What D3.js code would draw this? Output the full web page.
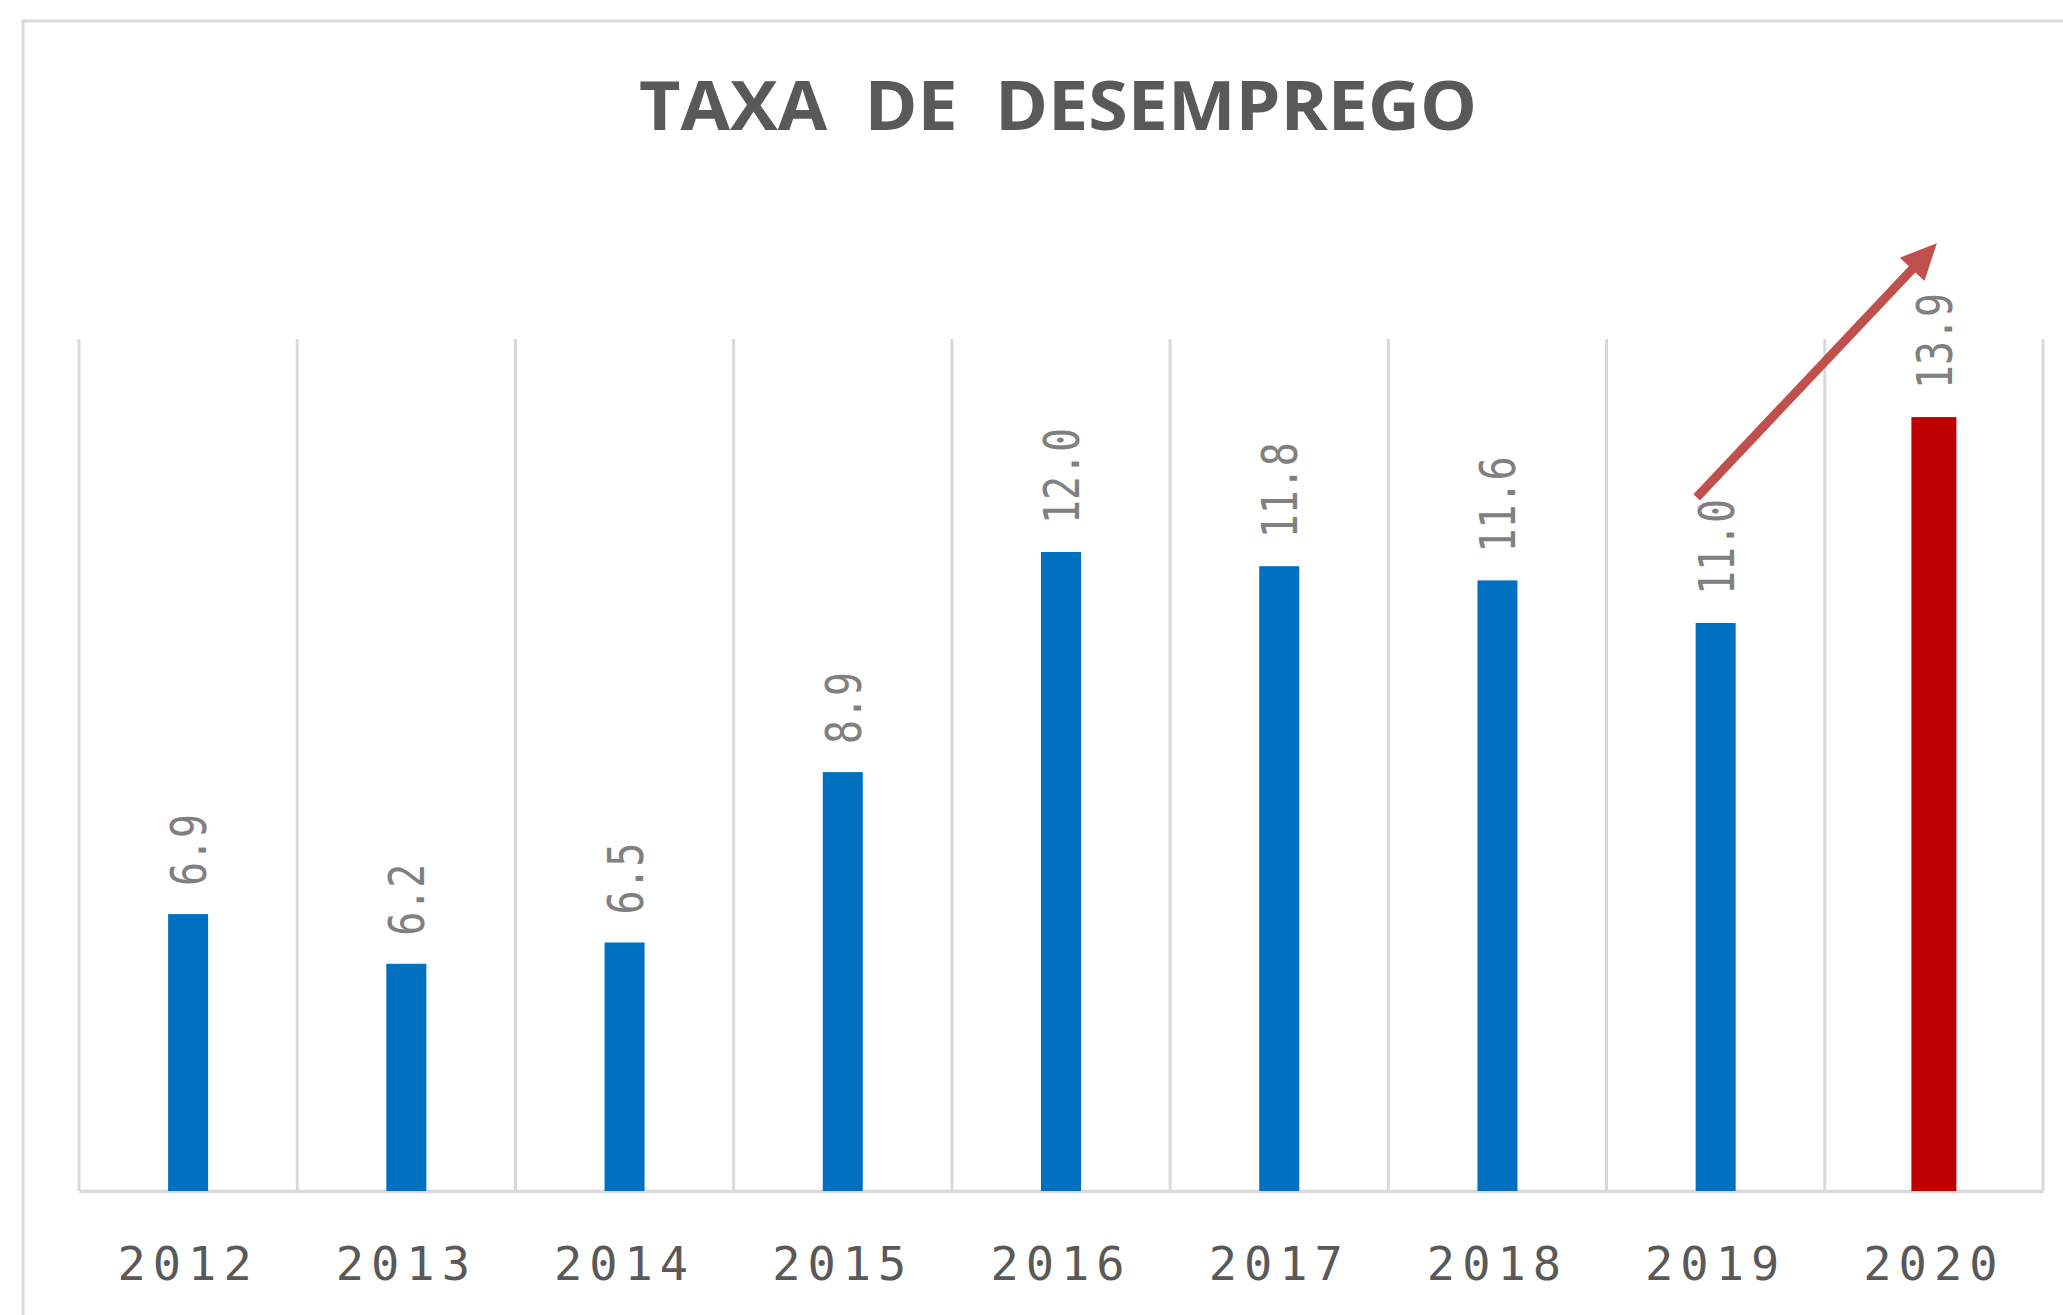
<!DOCTYPE html>
<html>
<head>
<meta charset="utf-8">
<script src="https://cdn.jsdelivr.net/npm/d3@7"></script>
<style>
  html, body { margin: 0; padding: 0; background: #fff; }
  svg { display: block; }
</style>
</head>
<body>
<div id="chart"></div>
<script>
// data
const years = ['2012', '2013', '2014', '2015', '2016', '2017', '2018', '2019', '2020'];
const rates = [6.9, 6.2, 6.5, 8.9, 12.0, 11.8, 11.6, 11.0, 13.9];
const highlightYear = '2020';
const yDomain = [3, 15];
// arrow annotation, in data terms (year + value)
const arrowFrom = { year: '2019', value: 12.77 };
const arrowTo = { year: '2020', value: 16.35 };

const width = 2063;
const height = 1315;
const plot = { left: 79, right: 2043, top: 339, bottom: 1191 };

const svg = d3.select('#chart').append('svg')
  .attr('width', width)
  .attr('height', height);

// outer chart border (cut off on right/bottom like the screenshot)
svg.append('rect')
  .attr('x', 23).attr('y', 21)
  .attr('width', 2200).attr('height', 1500)
  .attr('fill', 'none')
  .attr('stroke', '#d9d9d9')
  .attr('stroke-width', 3);

svg.append('text')
  .attr('x', 1058)
  .attr('y', 130)
  .attr('text-anchor', 'middle')
  .attr('textLength', 838)
  .attr('lengthAdjust', 'spacingAndGlyphs')
  .style('white-space', 'pre')
  .style('font-family', '"Open Sans", sans-serif')
  .style('font-weight', 700)
  .style('font-size', '68px')
  .style('fill', '#595959')
  .text('TAXA  DE  DESEMPREGO');

const x = d3.scaleBand()
  .domain(years)
  .range([plot.left, plot.right])
  .padding(0);

const y = d3.scaleLinear()
  .domain(yDomain)
  .range([plot.bottom, plot.top]);

const cx = d => x(d) + x.bandwidth() / 2;

// vertical gridlines at category boundaries
const bounds = years.map(d => x(d)).concat([x(years[years.length - 1]) + x.bandwidth()]);
svg.append('g')
  .selectAll('line')
  .data(bounds)
  .enter()
  .append('line')
  .attr('x1', d => d).attr('x2', d => d)
  .attr('y1', plot.top).attr('y2', plot.bottom)
  .attr('stroke', '#d9d9d9')
  .attr('stroke-width', 3);

// x axis
const xAxis = svg.append('g')
  .attr('transform', `translate(0,${plot.bottom})`)
  .call(d3.axisBottom(x).tickSize(0).tickPadding(89));
xAxis.select('.domain')
  .attr('stroke', '#d9d9d9')
  .attr('stroke-width', 3.5);
xAxis.selectAll('text')
  .attr('dy', 0)
  .style('font-family', '"DejaVu Sans Mono", monospace')
  .style('font-size', '47px')
  .style('letter-spacing', '7px')
  .style('fill', '#595959');

const data = years.map((d, i) => ({ year: d, value: rates[i] }));

const barW = d => (d.year === highlightYear ? 45 : 40);

svg.append('g')
  .selectAll('rect')
  .data(data)
  .enter()
  .append('rect')
  .attr('x', d => cx(d.year) - barW(d) / 2)
  .attr('width', barW)
  .attr('y', d => y(d.value))
  .attr('height', d => y(yDomain[0]) - y(d.value))
  .attr('fill', d => (d.year === highlightYear ? '#c00000' : '#0070c0'));

// rotated value labels
svg.append('g')
  .selectAll('text')
  .data(data)
  .enter()
  .append('text')
  .attr('transform', d => `translate(${cx(d.year)},${y(d.value) - 28}) rotate(-90)`)
  .attr('dy', '0.36em')
  .attr('textLength', d => d.value.toFixed(1).length * 24)
  .attr('lengthAdjust', 'spacingAndGlyphs')
  .style('font-family', '"DejaVu Sans Mono", monospace')
  .style('font-size', '50px')
  .style('fill', '#808080')
  .text(d => d.value.toFixed(1));

// arrow 2019 -> 2020
const sx = cx(arrowFrom.year) - 19, sy = y(arrowFrom.value);
const tx = cx(arrowTo.year) + 3, ty = y(arrowTo.value);
const len = Math.hypot(tx - sx, ty - sy);
const ux = (tx - sx) / len, uy = (ty - sy) / len;
const headLen = 36, headHalf = 17;
const bx = tx - ux * headLen, by = ty - uy * headLen;

svg.append('line')
  .attr('x1', sx).attr('y1', sy)
  .attr('x2', bx + ux * 4).attr('y2', by + uy * 4)
  .attr('stroke', '#c0504d')
  .attr('stroke-width', 9);

svg.append('path')
  .attr('d', d3.line()([
    [tx, ty],
    [bx - uy * headHalf, by + ux * headHalf],
    [bx + uy * headHalf, by - ux * headHalf]
  ]) + 'Z')
  .attr('fill', '#c0504d');
</script>
</body>
</html>
